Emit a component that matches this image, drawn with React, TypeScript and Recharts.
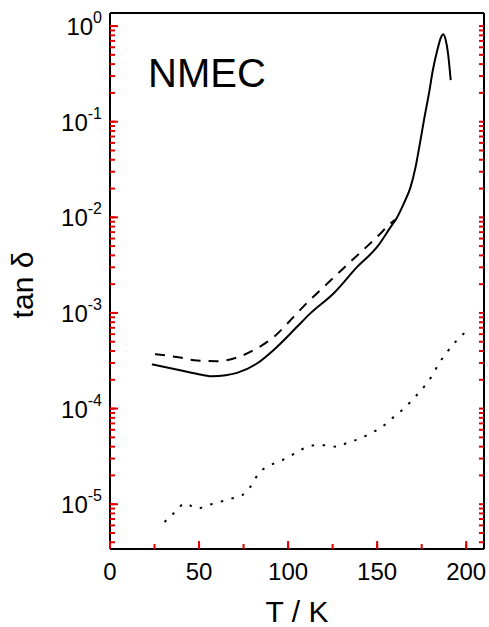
import { Line, LineChart, ReferenceLine, XAxis, YAxis } from 'recharts';

// solid curve
const solidT = [23.5, 30, 39.4, 48, 57.2, 65, 71.3, 82.5, 93.8, 105, 112.5, 125.5, 138.8, 150, 158.5, 160.3, 165, 168.8, 171.6, 174, 176.3, 179.1, 181.3, 183.8, 186, 187.1, 188.5, 189.8, 191.3];
const solidTan = [2.9e-4, 2.74e-4, 2.52e-4, 2.33e-4, 2.18e-4, 2.23e-4, 2.36e-4, 2.96e-4, 4.42e-4, 7.16e-4, 9.9e-4, 1.6e-3, 3.03e-3, 4.9e-3, 8.4e-3, 9.35e-3, 1.4e-2, 2.08e-2, 3.37e-2, 5.9e-2, 0.104, 0.198, 0.347, 0.561, 0.773, 0.82, 0.714, 0.518, 0.272];

// dashed curve
const dashedT = [25.3, 39.4, 48.8, 60, 71.3, 80.6, 91.9, 103.1, 110.7, 118.1, 135, 150, 157.5, 160];
const dashedTan = [3.71e-4, 3.42e-4, 3.18e-4, 3.13e-4, 3.42e-4, 4.08e-4, 5.6e-4, 9.1e-4, 1.28e-3, 1.73e-3, 3.43e-3, 6.25e-3, 8.6e-3, 9.4e-3];

// dotted curve
const dottedT = [30.6, 36.6, 42.2, 48.8, 55.3, 61.9, 68.5, 74.1, 78.8, 83.4, 90, 96.6, 102.2, 108.8, 115.3, 121.9, 127.5, 133.1, 140.6, 146.3, 152.8, 159.4, 165, 170.6, 176.3, 181, 184.7, 189.4, 194, 199.7];
const dottedTan = [6.5e-6, 8.3e-6, 1.02e-5, 9.0e-6, 9.8e-6, 1.06e-5, 1.15e-5, 1.24e-5, 1.52e-5, 2.09e-5, 2.56e-5, 2.88e-5, 3.26e-5, 3.83e-5, 4.14e-5, 4.14e-5, 3.98e-5, 4.38e-5, 4.87e-5, 5.5e-5, 6.45e-5, 8.2e-5, 1.0e-4, 1.28e-4, 1.69e-4, 2.23e-4, 2.96e-4, 3.92e-4, 4.99e-4, 6.35e-4];

const xMajor = [0, 50, 100, 150, 200];
const xMinor = [25, 75, 125, 175];
const yExponents = [-5, -4, -3, -2, -1, 0];
const yMantissas = [2, 3, 4, 5, 6, 7, 8, 9];

const X_DOMAIN: [number, number] = [0, 210];
const Y_DOMAIN: [number, number] = [3.4e-6, 1.37];

const FONT = '"Liberation Sans", Arial, Helvetica, sans-serif';
// temporary check colour for the tick marks
const TICK = '#e00000';

const W = 489;
const H = 627;
const MARGIN = { top: 12, right: 4, bottom: 0, left: 0 };
const Y_AXIS_W = 110;
const X_AXIS_H = 78;
const MAJOR_LEN = 8;
const MINOR_LEN = 5;
const TICK_MARGIN = 13;

const toRows = (ts: number[], vs: number[]) => ts.map((t, i) => ({ t, v: vs[i] }));
const solidRows = toRows(solidT, solidTan);
const dashedRows = toRows(dashedT, dashedTan);
const dottedRows = toRows(dottedT, dottedTan);

const xTicks = [...xMajor, ...xMinor].sort((a, b) => a - b);
const yMajor = yExponents.map((e) => Math.pow(10, e));
const yMinor = [-6, ...yExponents]
  .flatMap((e) => yMantissas.map((m) => m * Math.pow(10, e)))
  .filter((v) => v >= Y_DOMAIN[0] && v <= Y_DOMAIN[1]);
const yTicks = [...yMajor, ...yMinor].sort((a, b) => a - b);
const isMajorY = (v: number) => yMajor.some((m) => Math.abs(m - v) / m < 1e-9);
const isMajorX = (t: number) => xMajor.includes(t);

const tickLineStyle = { stroke: TICK, strokeWidth: 2 };

const NoLabel = () => <g />;

function YTick({ x, y, payload }: any) {
  if (!isMajorY(payload.value)) return <g />;
  const ax = x + TICK_MARGIN - MINOR_LEN;
  return (
    <g>
      <line x1={ax} x2={ax + MAJOR_LEN} y1={y} y2={y} stroke={TICK} strokeWidth={2} />
      <text x={x} y={y + 9} textAnchor="end" fontSize={24} fontFamily={FONT} fill="#000">
        10
        <tspan dy={-12} fontSize={16}>
          {Math.round(Math.log10(payload.value))}
        </tspan>
      </text>
    </g>
  );
}

function XTick({ x, y, payload }: any) {
  if (!isMajorX(payload.value)) return <g />;
  const ay = y - TICK_MARGIN + MINOR_LEN;
  return (
    <g>
      <line x1={x} x2={x} y1={ay} y2={ay - MAJOR_LEN} stroke={TICK} strokeWidth={2} />
      <text x={x} y={y + 23} textAnchor="middle" fontSize={24} fontFamily={FONT} fill="#000">
        {payload.value}
      </text>
    </g>
  );
}

export default function App() {
  return (
    <div style={{ position: 'absolute', left: 0, top: 0 }}>
      <LineChart width={W} height={H} margin={MARGIN}>
        <XAxis
          xAxisId="x"
          dataKey="t"
          type="number"
          domain={X_DOMAIN}
          allowDataOverflow
          ticks={xTicks}
          interval={0}
          height={X_AXIS_H}
          tickSize={-MINOR_LEN}
          tickMargin={TICK_MARGIN}
          tick={<XTick />}
          tickLine={tickLineStyle}
          axisLine={{ stroke: '#000', strokeWidth: 2 }}
        />
        <XAxis
          xAxisId="top"
          orientation="top"
          type="number"
          domain={X_DOMAIN}
          allowDataOverflow
          ticks={xTicks}
          interval={0}
          height={1}
          tickSize={-MINOR_LEN}
          tick={<NoLabel />}
          tickLine={tickLineStyle}
          axisLine={{ stroke: '#000', strokeWidth: 2 }}
        />
        <YAxis
          yAxisId="y"
          type="number"
          scale="log"
          domain={Y_DOMAIN}
          allowDataOverflow
          ticks={yTicks}
          interval={0}
          width={Y_AXIS_W}
          tickSize={-MINOR_LEN}
          tickMargin={TICK_MARGIN}
          tick={<YTick />}
          tickLine={tickLineStyle}
          axisLine={{ stroke: '#000', strokeWidth: 2 }}
        />
        <YAxis
          yAxisId="right"
          orientation="right"
          type="number"
          scale="log"
          domain={Y_DOMAIN}
          allowDataOverflow
          ticks={yTicks}
          interval={0}
          width={1}
          tickSize={-MINOR_LEN}
          tick={<NoLabel />}
          tickLine={tickLineStyle}
          axisLine={{ stroke: '#000', strokeWidth: 2 }}
        />
        <ReferenceLine xAxisId="x" yAxisId="y" x={X_DOMAIN[1]} stroke="#000" strokeWidth={2} />
        <ReferenceLine xAxisId="x" yAxisId="y" y={Y_DOMAIN[1]} stroke="#000" strokeWidth={2} />
        <Line
          xAxisId="x"
          yAxisId="y"
          data={solidRows}
          dataKey="v"
          type="monotone"
          stroke="#000"
          strokeWidth={2}
          dot={false}
          activeDot={false}
          isAnimationActive={false}
        />
        <Line
          xAxisId="x"
          yAxisId="y"
          data={dashedRows}
          dataKey="v"
          type="monotone"
          stroke="#000"
          strokeWidth={2}
          strokeDasharray="10 8"
          dot={false}
          activeDot={false}
          isAnimationActive={false}
        />
        <Line
          xAxisId="x"
          yAxisId="y"
          data={dottedRows}
          dataKey="v"
          type="monotone"
          stroke="#000"
          strokeWidth={2}
          strokeDasharray="2.5 8.5"
          dot={false}
          activeDot={false}
          isAnimationActive={false}
        />
      </LineChart>
      <div
        style={{
          position: 'absolute',
          left: 148,
          top: 53,
          fontFamily: FONT,
          fontSize: 40,
          lineHeight: 1,
          whiteSpace: 'nowrap',
        }}
      >
        NMEC
      </div>
      <div
        style={{
          position: 'absolute',
          left: 23,
          top: 285,
          transform: 'translate(-50%, -50%) rotate(-90deg)',
          fontFamily: FONT,
          fontSize: 30,
          lineHeight: 1,
          whiteSpace: 'nowrap',
        }}
      >
        tan δ
      </div>
      <div
        style={{
          position: 'absolute',
          left: 297,
          top: 597,
          transform: 'translateX(-50%)',
          fontFamily: FONT,
          fontSize: 30,
          lineHeight: 1,
          whiteSpace: 'nowrap',
        }}
      >
        T / K
      </div>
    </div>
  );
}
